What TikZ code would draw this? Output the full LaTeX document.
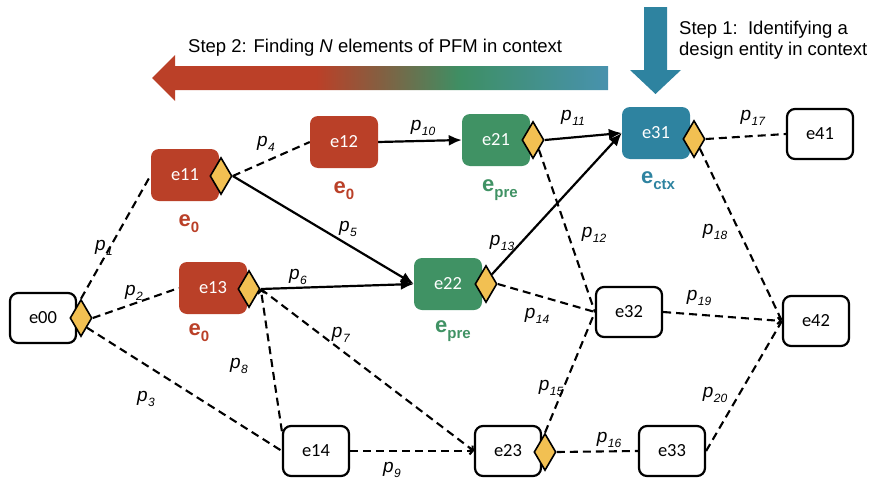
\documentclass[tikz,border=0pt]{standalone}
\usepackage{fontspec}
\setmainfont{Liberation Sans}
\newfontfamily\calib{Carlito}
\usetikzlibrary{arrows.meta,shapes.geometric,backgrounds}
\definecolor{cred}{RGB}{186,64,40}
\definecolor{cgreen}{RGB}{64,146,100}
\definecolor{cblue}{RGB}{46,131,160}
\definecolor{cdia}{RGB}{242,192,82}
\definecolor{gred}{RGB}{187,64,40}
\definecolor{gbrown}{RGB}{132,95,65}
\definecolor{ggreen}{RGB}{62,143,100}
\definecolor{gblue}{RGB}{72,146,174}
\pgfdeclarehorizontalshading{stepgrad}{100bp}{color(0bp)=(gred); color(43bp)=(gred); color(50bp)=(gbrown); color(58.75bp)=(ggreen); color(75bp)=(gblue); color(100bp)=(gblue)}
\newcommand\plab[1]{\textit{p}\kern0.5pt\raisebox{-4.5pt}{\fontsize{12}{12}\selectfont\textit{#1}}}
\newcommand\elab[1]{\textbf{e}\raisebox{-6pt}{\fontsize{15}{15}\selectfont\textbf{#1}}}
\begin{document}
\begin{tikzpicture}[x=1pt,y=-1pt,
  nbox/.style={rectangle, rounded corners=8pt, minimum width=68pt, minimum height=52pt, inner sep=0pt, font=\calib\fontsize{18.5}{18.5}\selectfont},
  ebw/.style={nbox, draw=black, line width=2.2pt, fill=white, minimum width=66pt, minimum height=50pt},
  ebr/.style={nbox, fill=cred, text=white},
  ebg/.style={nbox, fill=cgreen, text=white},
  ebb/.style={nbox, fill=cblue, text=white},
  dia/.style={diamond, draw=black, line width=1.6pt, fill=cdia, minimum width=22pt, minimum height=37pt, inner sep=0pt},
  pl/.style={font=\fontsize{19}{19}\selectfont, inner sep=0pt},
  el/.style={font=\fontsize{22}{22}\selectfont, inner sep=0pt},
  solidarr/.style={line width=2.2pt, -{Latex[length=13pt,width=11pt]}},
  dline/.style={line width=2.1pt, dash pattern=on 8pt off 5pt},
  darr/.style={dline, -{Straight Barb[length=3pt,width=7pt]}},
  steptext/.style={font=\fontsize{18.5}{21}\selectfont, inner sep=0pt}
]
\useasboundingbox (0,0) rectangle (872,479);

% big arrows
\shade[shading=stepgrad] (608,66) -- (175,66) -- (175,55) -- (152,78) -- (175,101) -- (175,90) -- (608,90) -- cycle;
\fill[cblue] (644,7) -- (667,7) -- (667,70) -- (681,70) -- (655.5,94) -- (630,70) -- (644,70) -- cycle;
\node[steptext, anchor=base west] (s2) at (188,52) {Step 2: Finding \textit{N} elements of PFM in context};
\node[steptext, anchor=north west, align=left] (s1) at (679,21) {Step 1:\ \ Identifying a\\design entity in context};

% boxes
\node[ebw] (e00) at (43,318) {e00};
\node[ebr] (e11) at (185,175) {e11};
\node[ebr] (e12) at (344,142) {e12};
\node[ebr] (e13) at (213,288) {e13};
\node[ebw] (e14) at (316,451) {e14};
\node[ebg] (e21) at (496,140) {e21};
\node[ebg] (e22) at (448,284) {e22};
\node[ebw] (e23) at (508,451) {e23};
\node[ebb] (e31) at (656,133) {e31};
\node[ebw] (e32) at (629,312) {e32};
\node[ebw] (e33) at (672,451) {e33};
\node[ebw] (e41) at (820,134) {e41};
\node[ebw] (e42) at (816,321) {e42};

% diamonds
\node[dia] (d00) at (81,318) {};
\node[dia] (d11) at (221,176) {};
\node[dia] (d13) at (249,289) {};
\node[dia] (d21) at (533,140) {};
\node[dia] (d22) at (486,284) {};
\node[dia] (d23) at (545,452) {};
\node[dia] (d31) at (694,139) {};

% entity labels
\node[el, text=cred] (l11) at (189,224) {\elab{0}};
\node[el, text=cred] (l12) at (344,191) {\elab{0}};
\node[el, text=cred] (l13) at (199,333) {\elab{0}};
\node[el, text=cgreen] (l21) at (500,190) {\elab{pre}};
\node[el, text=cgreen] (l22) at (453,331) {\elab{pre}};
\node[el, text=cblue] (l31) at (658,181) {\elab{ctx}};

% connectors
\begin{scope}[on background layer]
\draw[dline] (d00.north) -- (e11.west);
\draw[dline] (d00.east) -- (e13.west);
\draw[dline] (d00.south east) -- (e14.west);
\draw[dline] (d11.east) -- (e12.west);
\draw[solidarr] (d11.east) -- (e22.west);
\draw[solidarr] (d13.east) -- (e22.west);
\draw[darr] (d13.east) -- (e23.west);
\draw[darr] (e14.150) -- (d13.east);
\draw[darr] (e14.east) -- (e23.west);
\draw[solidarr] (e12.east) -- (e21.west);
\draw[solidarr] (d21.east) -- (e31.west);
\draw[solidarr] (d22.north east) -- (e31.west);
\draw[dline] (d21.south east) -- (e32.west);
\draw[dline] (d22.east) -- (e32.west);
\draw[dline] (d23.north) -- (e32.west);
\draw[dline] (d23.east) -- (e33.west);
\draw[dline] (d31.east) -- (e41.west);
\draw[dline] (d31.south east) -- (e42.west);
\draw[darr] (e32.east) -- (e42.west);
\draw[dline] (e33.east) -- (e42.west);
\end{scope}

% path labels
\node[pl] (p1) at (104,248) {\plab{1}};
\node[pl] (p2) at (134,293) {\plab{2}};
\node[pl] (p3) at (146,399) {\plab{3}};
\node[pl] (p4) at (266,144) {\plab{4}};
\node[pl] (p5) at (348,229) {\plab{5}};
\node[pl] (p6) at (298,277) {\plab{6}};
\node[pl] (p7) at (341,335) {\plab{7}};
\node[pl] (p8) at (239,366) {\plab{8}};
\node[pl] (p9) at (392,470) {\plab{9}};
\node[pl] (p10) at (423,128) {\plab{10}};
\node[pl] (p11) at (573,118) {\plab{11}};
\node[pl] (p12) at (594,235) {\plab{12}};
\node[pl] (p13) at (502,243) {\plab{13}};
\node[pl] (p14) at (537,316) {\plab{14}};
\node[pl] (p15) at (551,388) {\plab{15}};
\node[pl] (p16) at (609,440) {\plab{16}};
\node[pl] (p17) at (753,118) {\plab{17}};
\node[pl] (p18) at (715,232) {\plab{18}};
\node[pl] (p19) at (699,298) {\plab{19}};
\node[pl] (p20) at (715,395) {\plab{20}};
\end{tikzpicture}
\end{document}
